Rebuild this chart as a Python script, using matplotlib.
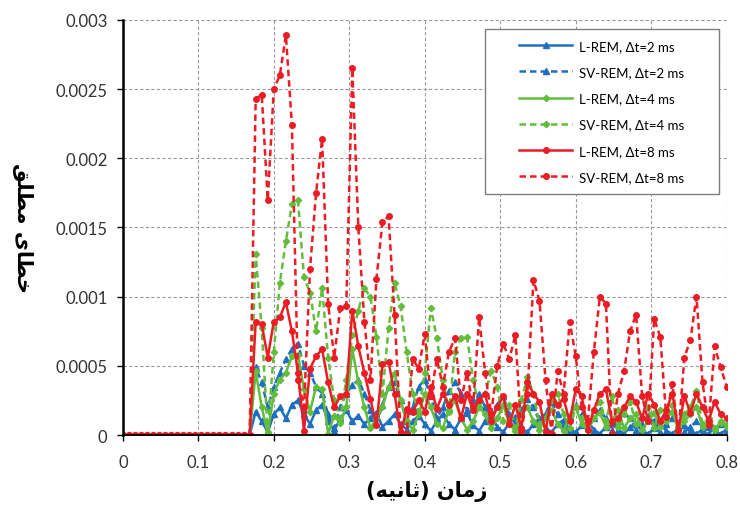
"""خطای مطلق L-REM و SV-REM برای سه گام زمانی (2، 4 و 8 میلی‌ثانیه)."""

import numpy as np
import matplotlib
matplotlib.use("Agg")
import matplotlib.pyplot as plt
from matplotlib.patches import Rectangle
from matplotlib.ticker import FormatStrFormatter, MultipleLocator


# زمان خروجی‌ها: از 0 تا 0.8 ثانیه با فاصله 8 میلی‌ثانیه
dt_out = 0.008
time = np.round(np.arange(101) * dt_out, 3)

# تا حدود 0.17 ثانیه همه خطاها صفر هستند (22 نقطه اول)
lead_zeros = [0.0] * 22

# مقادیر از 0.176 تا 0.8 ثانیه (هر ردیف 10 نقطه)
sv_8ms = [
    0.00243, 0.00246, 0.00170, 0.00250, 0.00260, 0.00289, 0.00224, 0.00040, 0.00020, 0.00120,
    0.00175, 0.00214, 0.00095, 0.00056, 0.00092, 0.00093, 0.00265, 0.00150, 0.00082, 0.00040,
    0.00113, 0.00154, 0.00158, 0.00087, 0.00002, 0.00001, 0.00055, 0.00048, 0.00073, 0.00028,
    0.00055, 0.00035, 0.00060, 0.00070, 0.00025, 0.00045, 0.00020, 0.00085, 0.00045, 0.00015,
    0.00050, 0.00066, 0.00055, 0.00072, 0.00002, 0.00030, 0.00112, 0.00097, 0.00040, 0.00001,
    0.00046, 0.00030, 0.00082, 0.00057, 0.00020, 0.00010, 0.00060, 0.00100, 0.00095, 0.00001,
    0.00030, 0.00046, 0.00075, 0.00087, 0.00028, 0.00010, 0.00084, 0.00071, 0.00013, 0.00037,
    0.00001, 0.00056, 0.00069, 0.00100, 0.00038, 0.00007, 0.00064, 0.00049, 0.00035,
]
l_8ms = [
    0.00082, 0.00080, 0.00056, 0.00082, 0.00085, 0.00096, 0.00075, 0.00045, 0.00003, 0.00048,
    0.00057, 0.00062, 0.00038, 0.00020, 0.00028, 0.00030, 0.00090, 0.00064, 0.00045, 0.00026,
    0.00007, 0.00051, 0.00053, 0.00030, 0.00001, 0.00019, 0.00017, 0.00025, 0.00017, 0.00035,
    0.00019, 0.00030, 0.00022, 0.00028, 0.00012, 0.00030, 0.00018, 0.00025, 0.00030, 0.00010,
    0.00020, 0.00028, 0.00008, 0.00022, 0.00005, 0.00038, 0.00030, 0.00024, 0.00002, 0.00030,
    0.00022, 0.00026, 0.00010, 0.00033, 0.00028, 0.00004, 0.00018, 0.00030, 0.00033, 0.00010,
    0.00012, 0.00020, 0.00028, 0.00024, 0.00012, 0.00030, 0.00022, 0.00010, 0.00018, 0.00030,
    0.00004, 0.00028, 0.00016, 0.00030, 0.00020, 0.00010, 0.00024, 0.00015, 0.00012,
]
sv_4ms = [
    0.00131, 0.00077, 0.00002, 0.00060, 0.00110, 0.00140, 0.00167, 0.00170, 0.00114, 0.00103,
    0.00075, 0.00106, 0.00056, 0.00025, 0.00012, 0.00040, 0.00072, 0.00090, 0.00106, 0.00100,
    0.00071, 0.00030, 0.00077, 0.00110, 0.00093, 0.00060, 0.00030, 0.00017, 0.00045, 0.00092,
    0.00070, 0.00040, 0.00017, 0.00060, 0.00070, 0.00071, 0.00040, 0.00020, 0.00030, 0.00046,
    0.00035, 0.00010, 0.00022, 0.00005, 0.00025, 0.00042, 0.00030, 0.00008, 0.00012, 0.00025,
    0.00030, 0.00015, 0.00005, 0.00020, 0.00012, 0.00008, 0.00018, 0.00024, 0.00010, 0.00028,
    0.00006, 0.00015, 0.00024, 0.00008, 0.00012, 0.00020, 0.00005, 0.00018, 0.00010, 0.00022,
    0.00006, 0.00015, 0.00020, 0.00032, 0.00008, 0.00012, 0.00005, 0.00010, 0.00008,
]
l_4ms = [
    0.00046, 0.00020, 0.00001, 0.00030, 0.00040, 0.00045, 0.00057, 0.00058, 0.00033, 0.00017,
    0.00035, 0.00033, 0.00001, 0.00014, 0.00009, 0.00020, 0.00062, 0.00038, 0.00020, 0.00005,
    0.00012, 0.00020, 0.00035, 0.00045, 0.00025, 0.00010, 0.00004, 0.00015, 0.00030, 0.00020,
    0.00008, 0.00005, 0.00018, 0.00025, 0.00012, 0.00004, 0.00010, 0.00020, 0.00015, 0.00005,
    0.00012, 0.00022, 0.00008, 0.00003, 0.00015, 0.00020, 0.00010, 0.00004, 0.00012, 0.00018,
    0.00008, 0.00003, 0.00014, 0.00020, 0.00008, 0.00004, 0.00012, 0.00016, 0.00006, 0.00010,
    0.00018, 0.00005, 0.00012, 0.00015, 0.00004, 0.00010, 0.00016, 0.00006, 0.00012, 0.00017,
    0.00004, 0.00010, 0.00015, 0.00020, 0.00006, 0.00010, 0.00004, 0.00009, 0.00006,
]
sv_2ms = [
    0.00049, 0.00038, 0.00020, 0.00035, 0.00045, 0.00055, 0.00062, 0.00066, 0.00050, 0.00045,
    0.00035, 0.00030, 0.00015, 0.00005, 0.00020, 0.00030, 0.00036, 0.00040, 0.00030, 0.00018,
    0.00008, 0.00022, 0.00035, 0.00038, 0.00025, 0.00010, 0.00020, 0.00035, 0.00040, 0.00028,
    0.00012, 0.00020, 0.00032, 0.00038, 0.00030, 0.00018, 0.00025, 0.00030, 0.00020, 0.00010,
    0.00022, 0.00028, 0.00015, 0.00008, 0.00018, 0.00026, 0.00020, 0.00010, 0.00016, 0.00024,
    0.00015, 0.00006, 0.00014, 0.00022, 0.00015, 0.00005, 0.00012, 0.00018, 0.00012, 0.00004,
    0.00010, 0.00016, 0.00012, 0.00004, 0.00008, 0.00014, 0.00010, 0.00002, 0.00008, 0.00012,
    0.00008, 0.00002, 0.00006, 0.00010, 0.00006, 0.00001, 0.00005, 0.00008, 0.00005,
]
l_2ms = [
    0.00017, 0.00010, 0.00002, 0.00015, 0.00020, 0.00012, 0.00022, 0.00025, 0.00015, 0.00008,
    0.00018, 0.00022, 0.00010, 0.00003, 0.00012, 0.00018, 0.00010, 0.00014, 0.00008, 0.00012,
    0.00016, 0.00006, 0.00010, 0.00015, 0.00008, 0.00004, 0.00010, 0.00014, 0.00008, 0.00003,
    0.00010, 0.00015, 0.00008, 0.00004, 0.00012, 0.00016, 0.00007, 0.00003, 0.00010, 0.00014,
    0.00006, 0.00002, 0.00009, 0.00013, 0.00005, 0.00002, 0.00008, 0.00012, 0.00005, 0.00002,
    0.00008, 0.00011, 0.00004, 0.00002, 0.00007, 0.00010, 0.00004, 0.00001, 0.00006, 0.00009,
    0.00004, 0.00001, 0.00006, 0.00008, 0.00003, 0.00001, 0.00005, 0.00008, 0.00003, 0.00001,
    0.00005, 0.00007, 0.00003, 0.00001, 0.00004, 0.00006, 0.00002, 0.00001, 0.00004,
]

labels = [
    "L-REM, Δt=2 ms", "SV-REM, Δt=2 ms",
    "L-REM, Δt=4 ms", "SV-REM, Δt=4 ms",
    "L-REM, Δt=8 ms", "SV-REM, Δt=8 ms",
]
x_ticks = [0, 0.1, 0.2, 0.3, 0.4, 0.5, 0.6, 0.7, 0.8]

# برچسب‌های فارسی به صورت حروف شکل‌یافته و به ترتیب دیداری،
# چون matplotlib خودش متن راست‌به‌چپ را شکل نمی‌دهد.
x_title = "(\uFEEA\uFEF4\uFEE7\uFE8E\uFE9B) \uFEE5\uFE8E\uFEE3\uFEAF"   # زمان (ثانیه)
y_title = "\uFED6\uFEE0\uFEC4\uFEE3 \uFEEF\uFE8E\uFEC4\uFEA7"          # خطای مطلق

BLUE = "#1F6FC0"
GREEN = "#62BD3C"
RED = "#EC1C24"


def draw():
    plt.rcParams["font.family"] = ["Lato", "DejaVu Sans"]

    fig = plt.figure(figsize=(7.4, 5.1), dpi=100)
    ax = fig.add_axes([0.166, 0.145, 0.816, 0.814])

    series = [l_2ms, sv_2ms, l_4ms, sv_4ms, l_8ms, sv_8ms]
    colors = [BLUE, BLUE, GREEN, GREEN, RED, RED]
    markers = ["^", "^", "D", "D", "o", "o"]
    msizes = [4.5, 4.5, 3.2, 3.2, 4.0, 4.0]

    for i, values in enumerate(series):
        y = np.array(lead_zeros + values)
        line, = ax.plot(
            time, y,
            color=colors[i],
            linewidth=1.8,
            marker=markers[i],
            markersize=msizes[i],
            label=labels[i],
        )
        if i % 2 == 1:
            line.set_dashes((2.6, 1.6))

    ax.set_xlim(0, 0.8)
    ax.set_ylim(0, 0.003)
    ax.set_xticks(x_ticks)
    ax.yaxis.set_major_locator(MultipleLocator(0.0005))
    ax.xaxis.set_major_formatter(FormatStrFormatter("%g"))
    ax.yaxis.set_major_formatter(FormatStrFormatter("%g"))

    ax.grid(True, color="#9a9a9a", linestyle=(0, (3, 2)), linewidth=0.8)
    ax.set_axisbelow(True)
    for side in ["top", "right"]:
        ax.spines[side].set_visible(False)
    ax.spines["left"].set_linewidth(1.8)
    ax.spines["bottom"].set_linewidth(1.3)
    ax.tick_params(axis="both", direction="out", length=4, width=1,
                   labelsize=12, labelcolor="#333333")
    ax.tick_params(axis="x", pad=10)
    ax.tick_params(axis="y", pad=7)

    # قاب لگند جدا کشیده می‌شود تا حاشیه افقی آن مثل نمودار اصلی پهن باشد
    frame = Rectangle((0.599, 0.581), 0.388, 0.397, transform=ax.transAxes,
                      facecolor="white", edgecolor="#7f7f7f", linewidth=1.0,
                      zorder=4.5, clip_on=False)
    ax.add_patch(frame)
    ax.legend(
        loc="center", bbox_to_anchor=(0.793, 0.7795), borderaxespad=0,
        fontsize=9.5, handlelength=4.0, labelspacing=1.08,
        handletextpad=0.5, frameon=False,
    )

    fig.text(427 / 740, 1 - 492 / 510, x_title, family="DejaVu Sans",
             weight="bold", fontsize=15, ha="center", va="center")
    fig.text(22 / 740, 1 - 228 / 510, y_title, family="DejaVu Sans",
             weight="bold", fontsize=15, ha="center", va="center", rotation=270)

    fig.savefig("out.png", dpi=100)


if __name__ == "__main__":
    draw()
